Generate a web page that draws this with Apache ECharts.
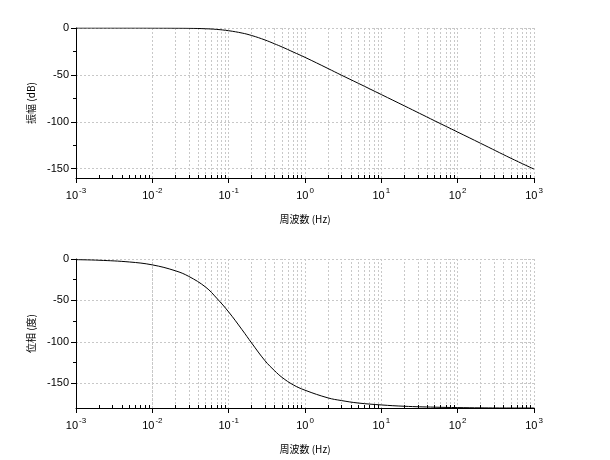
<!DOCTYPE html>
<html>
<head>
<meta charset="utf-8">
<script src="https://cdn.jsdelivr.net/npm/echarts@6/dist/echarts.min.js"></script>
<style>
	html, body { margin: 0; padding: 0; background: #fff; }
	#main { width: 610px; height: 460px; }
</style>
</head>
<body>
<div id="main"></div>
<script>
	// 周波数 (Hz)
	let freq = [0.001, 0.002, 0.005, 0.01, 0.02, 0.03, 0.05, 0.07, 0.1, 0.15, 0.2, 0.3, 0.4, 0.5, 0.7,
		1, 2, 3, 5, 10, 20, 50, 100, 200, 500, 1000];
	// 振幅 (dB)
	let gain = [0, 0, 0, -0.05, -0.15, -0.3, -0.8, -1.5, -2.9, -5.4, -8.0, -12.8, -16.9, -20.2, -25.6,
		-31.3, -43.2, -50.3, -59, -71, -83, -99, -111, -123, -139, -150.5];
	// 位相 (度)
	let phase = [-0.8, -1.5, -3.6, -7.1, -14.2, -21, -34, -47.5, -64, -85.5, -101.5, -123, -135, -143, -152,
		-158.5, -167.8, -171, -174, -176.3, -177.9, -179, -179.5, -179.8, -180, -180];
	// 軸の目盛
	let decades = [0.001, 0.01, 0.1, 1, 10, 100];
	let minorSteps = [2, 3, 4, 5, 6, 7, 8, 9];
	let yMajor = [0, -50, -100, -150];
	let yMinor = [-25, -75, -125];

	let minorX = [];
	decades.forEach(d => {
		minorSteps.forEach(m => {
			minorX.push(+(d * m).toPrecision(3));
		});
	});

	let fontLat = 'Liberation Sans';
	let fontJp = 'Noto Sans CJK JP';
	let gridColor = '#c8c8c8';

	function expLabel(v) {
		let e = Math.round(Math.log10(v));
		return '{b|10}{s|' + e + '}';
	}

	function xAxisOf(idx) {
		return {
			type: 'log',
			logBase: 10,
			gridIndex: idx,
			min: 0.001,
			max: 1000,
			name: '周波数 (Hz)',
			nameLocation: 'middle',
			nameGap: 36,
			nameTextStyle: { fontFamily: fontJp, fontSize: 10, color: '#000' },
			axisLine: { onZero: false, lineStyle: { color: '#000', width: 1 } },
			axisTick: { show: true, inside: false, length: 5, lineStyle: { color: '#000' } },
			axisLabel: {
				formatter: expLabel,
				margin: 9,
				color: '#000',
				rich: {
					b: { fontFamily: fontLat, fontSize: 11, color: '#000' },
					s: { fontFamily: fontLat, fontSize: 8, color: '#000', padding: [0, 0, 9, 1] }
				}
			},
			splitLine: { show: true, lineStyle: { color: gridColor, type: [2, 2], width: 1 } }
		};
	}

	function yAxesOf(idx, min, name) {
		return [{
			type: 'value',
			gridIndex: idx,
			position: 'left',
			min: min,
			max: 0,
			name: name,
			nameLocation: 'middle',
			nameGap: 38,
			nameTextStyle: { fontFamily: fontJp, fontSize: 10, color: '#000' },
			axisLine: { show: true, lineStyle: { color: '#000', width: 1 } },
			axisTick: { show: true, length: 5, customValues: yMajor, lineStyle: { color: '#000' } },
			axisLabel: { customValues: yMajor, fontFamily: fontLat, fontSize: 11, color: '#000', margin: 7 },
			splitLine: { show: true, lineStyle: { color: gridColor, type: [2, 2], width: 1 } }
		}, {
			// 補助目盛
			type: 'value',
			gridIndex: idx,
			position: 'left',
			offset: 0,
			min: min,
			max: 0,
			axisLine: { show: false },
			axisTick: { show: true, length: 3, customValues: yMinor, lineStyle: { color: '#000' } },
			axisLabel: { show: false },
			splitLine: { show: false }
		}];
	}

	function minorMarks(ymin, tickLen) {
		let data = minorX.map(x => ({ xAxis: x, lineStyle: { color: gridColor, type: [2, 2], width: 1 } }));
		minorX.forEach(x => {
			data.push([{ coord: [x, ymin], lineStyle: { color: '#000', type: 'solid', width: 1 } },
				{ coord: [x, ymin + tickLen] }]);
		});
		return {
			silent: true,
			symbol: ['none', 'none'],
			label: { show: false },
			animation: false,
			data: data
		};
	}

	let main = document.getElementById('main');
	let myChart = echarts.init(main);
	let option = {
		animation: false,
		backgroundColor: '#fff',
		grid: [
			{ left: 76, width: 458, top: 28, height: 150 },
			{ left: 76, width: 458, top: 259, height: 149 }
		],
		xAxis: [xAxisOf(0), xAxisOf(1)],
		yAxis: [...yAxesOf(0, -160, '振幅 (dB)'), ...yAxesOf(1, -180, '位相 (度)')],
		series: [{
			type: 'line',
			xAxisIndex: 0,
			yAxisIndex: 0,
			data: freq.map((f, i) => [f, gain[i]]),
			showSymbol: false,
			smooth: 0.4,
			lineStyle: { color: '#000', width: 1 },
			markLine: minorMarks(-160, 3.2),
			z: 5
		}, {
			type: 'line',
			xAxisIndex: 1,
			yAxisIndex: 2,
			data: freq.map((f, i) => [f, phase[i]]),
			showSymbol: false,
			smooth: 0.4,
			lineStyle: { color: '#000', width: 1 },
			markLine: minorMarks(-180, 3.6),
			z: 5
		}]
	};
	myChart.setOption(option);
</script>
</body>
</html>
